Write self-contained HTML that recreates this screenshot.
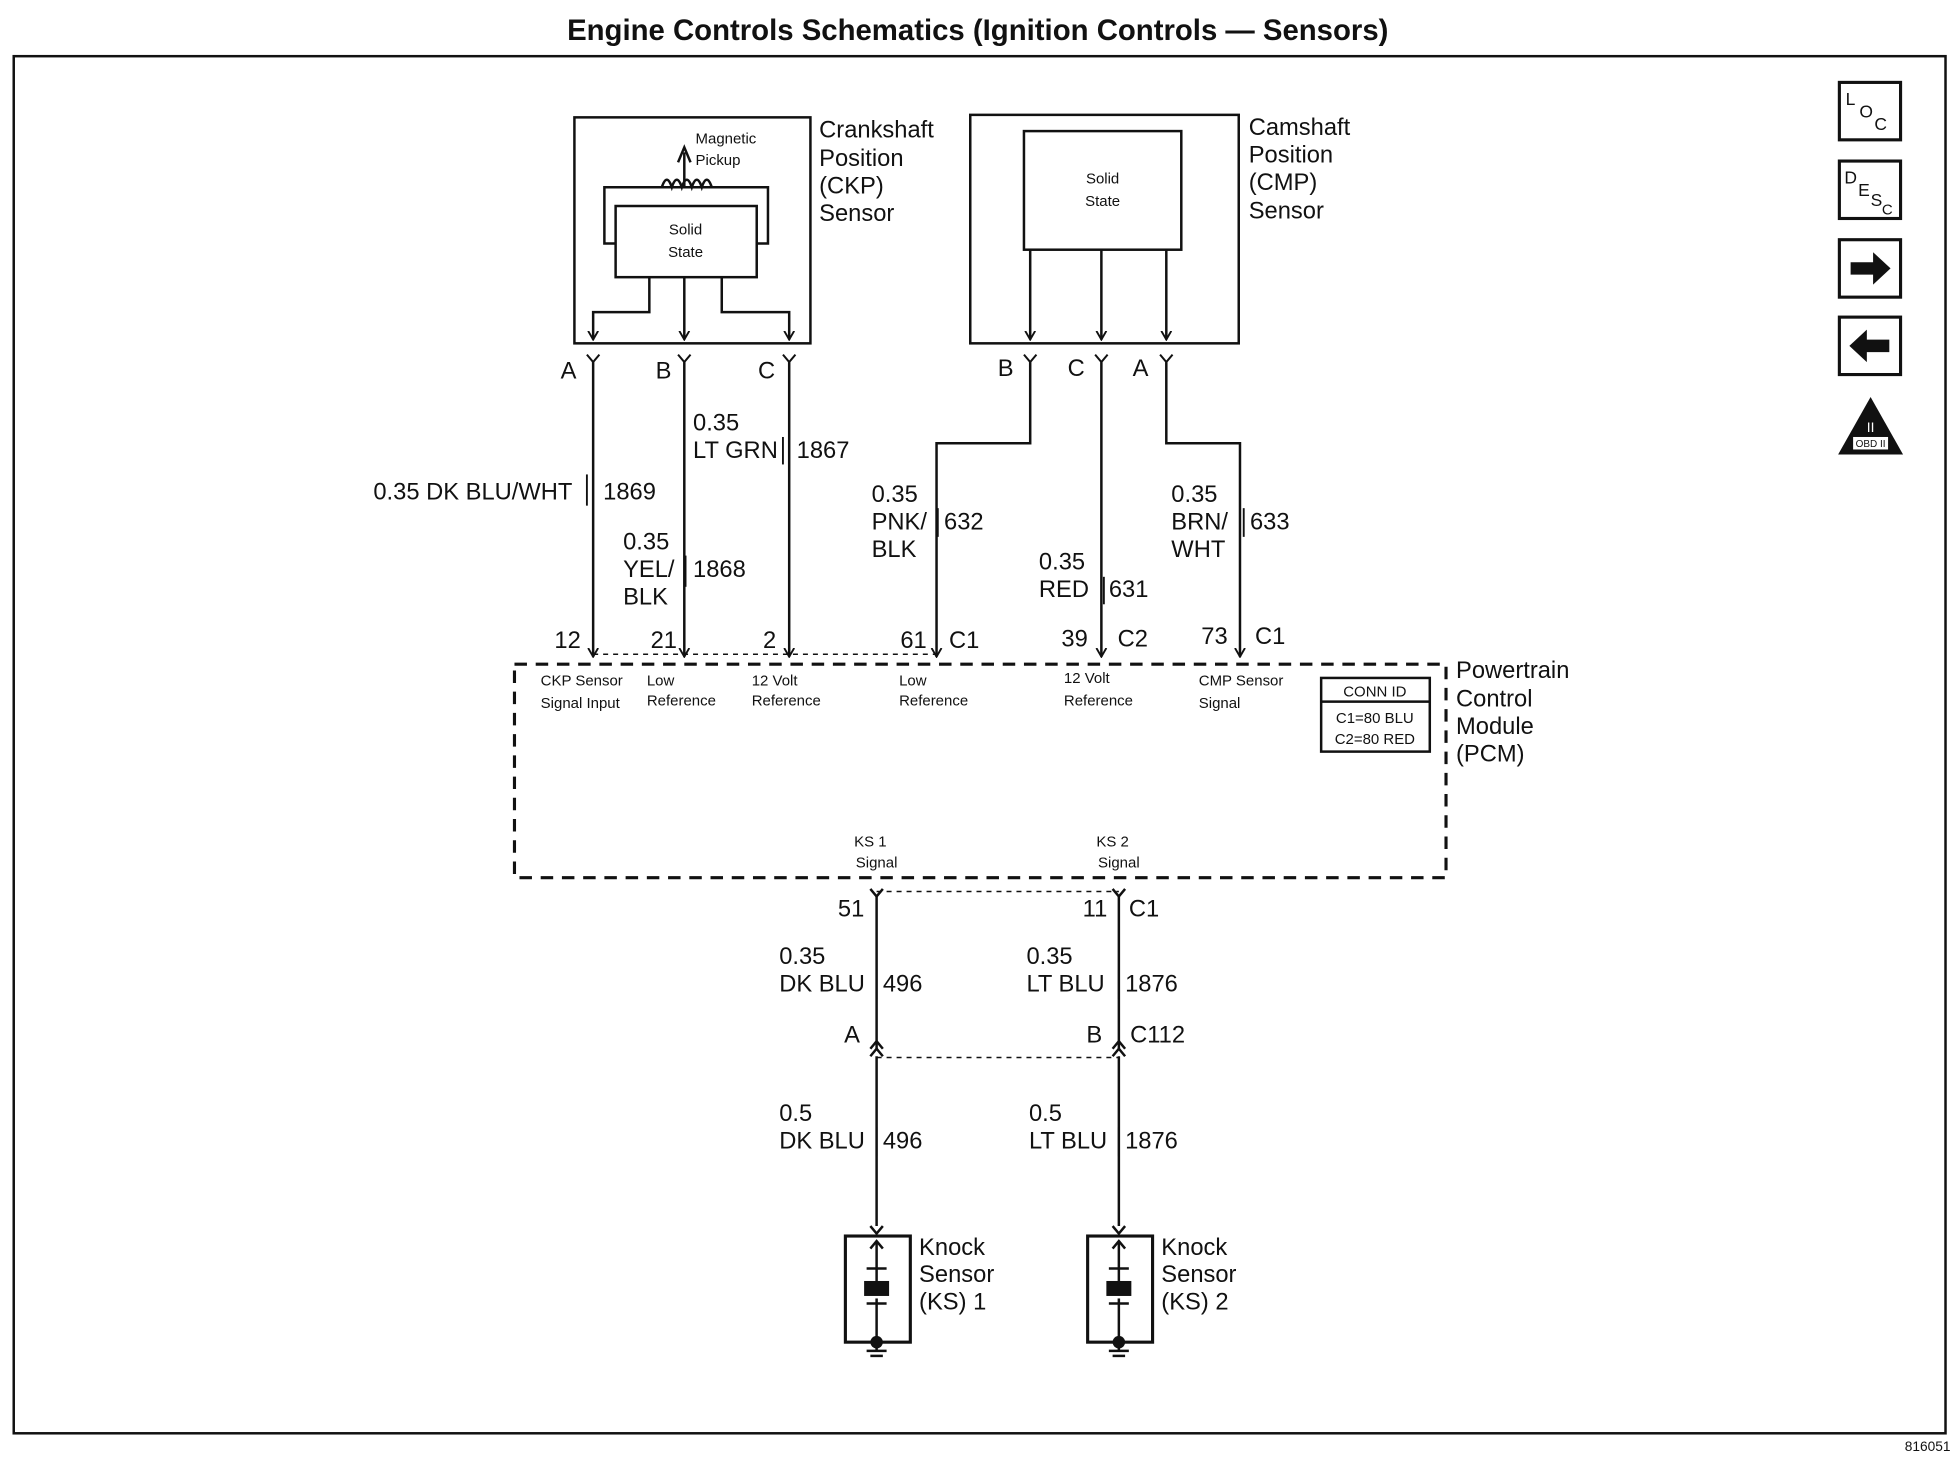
<!DOCTYPE html>
<html><head><meta charset="utf-8"><style>
html,body{margin:0;padding:0;background:#fff;}
svg{display:block}
text{font-family:"Liberation Sans",Arial,sans-serif;fill:#111}
</style></head><body>
<svg width="1958" height="1472" viewBox="0 0 1568 1179" preserveAspectRatio="none" xmlns="http://www.w3.org/2000/svg">
<defs>
<marker id="ah" markerWidth="8" markerHeight="10" refX="7" refY="5" orient="auto" markerUnits="userSpaceOnUse">
<path d="M0,1 L7,5 L0,9" fill="none" stroke="#111" stroke-width="1.5"/>
</marker>
</defs>
<text x="783" y="32" font-size="23.5" font-weight="bold" text-anchor="middle">Engine Controls Schematics (Ignition Controls — Sensors)</text>
<rect x="11" y="45" width="1547" height="1103" fill="none" stroke="#111" stroke-width="2"/>
<text x="1562" y="1162" font-size="11" text-anchor="end">816051</text>

<g fill="none" stroke="#111" stroke-width="2.5">
<rect x="1473" y="66" width="49" height="46"/>
<rect x="1473" y="129" width="49" height="46"/>
<rect x="1473" y="192" width="49" height="46"/>
<rect x="1473" y="254" width="49" height="46"/>
</g>
<text x="1478" y="84" font-size="14">L</text><text x="1489" y="94" font-size="14">O</text><text x="1501" y="104" font-size="14">C</text>
<text x="1477" y="147" font-size="14">D</text><text x="1488" y="157" font-size="14">E</text><text x="1498" y="165" font-size="14">S</text><text x="1507" y="172" font-size="12">C</text>
<path d="M1482,210 h18 v-8 l14,13 l-14,13 v-8 h-18z" fill="#111"/>
<path d="M1513,272 h-18 v-8 l-14,13 l14,13 v-8 h18z" fill="#111"/>
<path d="M1498,318 L1524,364 L1472,364 Z" fill="#111"/>
<rect x="1484" y="350" width="28" height="10" fill="#fff"/>
<text x="1498" y="358" font-size="8" text-anchor="middle">OBD II</text>
<text x="1498" y="346" font-size="11" text-anchor="middle" style="fill:#fff">II</text>

<g fill="none" stroke="#111" stroke-width="2">
<rect x="460" y="94" width="189" height="181"/>
<polyline points="493,195 484,195 484,150 615,150 615,195 606,195"/>
<rect x="493" y="165" width="113" height="57"/>
<path d="M530,150 q4,-12 8,0 q4,-12 8,0 q4,-12 8,0 q4,-12 8,0 q4,-12 8,0" />
<line x1="548" y1="150" x2="548" y2="122"/>
<path d="M543,130 L548,118 L553,130"/>
<polyline points="520,222 520,250 475,250 475,272" marker-end="url(#ah)"/>
<polyline points="548,222 548,272" marker-end="url(#ah)"/>
<polyline points="578,222 578,250 632,250 632,272" marker-end="url(#ah)"/>
<rect x="777" y="92" width="215" height="183"/>
<rect x="820" y="105" width="126" height="95"/>
<polyline points="825,200 825,272" marker-end="url(#ah)"/>
<polyline points="882,200 882,272" marker-end="url(#ah)"/>
<polyline points="934,200 934,272" marker-end="url(#ah)"/>
<g stroke-width="1.6">
<path d="M470,284 L475,290 L480,284"/>
<path d="M543,284 L548,290 L553,284"/>
<path d="M627,284 L632,290 L637,284"/>
<path d="M820,284 L825,290 L830,284"/>
<path d="M877,284 L882,290 L887,284"/>
<path d="M929,284 L934,290 L939,284"/>
</g>
<line x1="475" y1="290" x2="475" y2="526" marker-end="url(#ah)"/>
<line x1="548" y1="290" x2="548" y2="526" marker-end="url(#ah)"/>
<line x1="632" y1="290" x2="632" y2="526" marker-end="url(#ah)"/>
<polyline points="825,290 825,355 750,355 750,526" marker-end="url(#ah)"/>
<line x1="882" y1="290" x2="882" y2="526" marker-end="url(#ah)"/>
<polyline points="934,290 934,355 993,355 993,526" marker-end="url(#ah)"/>
<line x1="475" y1="524" x2="750" y2="524" stroke-dasharray="4,4" stroke-width="1.2"/>
<rect x="412" y="532" width="746" height="171" stroke-dasharray="10,7" stroke-width="2.5"/>
<rect x="1058" y="543" width="87" height="59"/>
<line x1="1058" y1="562" x2="1145" y2="562"/>
<path d="M697,712 L702,718 L707,712"/>
<path d="M891,712 L896,718 L901,712"/>
<line x1="702" y1="714" x2="896" y2="714" stroke-dasharray="4,4" stroke-width="1.2"/>
<line x1="702" y1="718" x2="702" y2="840"/>
<line x1="896" y1="718" x2="896" y2="840"/>
<path d="M697,840 L702,834 L707,840 M697,846 L702,840 L707,846"/>
<path d="M891,840 L896,834 L901,840 M891,846 L896,840 L901,846"/>
<line x1="702" y1="847" x2="896" y2="847" stroke-dasharray="4,4" stroke-width="1.2"/>
<line x1="702" y1="846" x2="702" y2="982"/>
<line x1="896" y1="846" x2="896" y2="982"/>
<path d="M697,982 L702,988 L707,982"/>
<path d="M891,982 L896,988 L901,982"/>
<rect x="677" y="990" width="52" height="85" stroke-width="2.5"/>
<rect x="871" y="990" width="52" height="85" stroke-width="2.5"/>
<g>
<line x1="702" y1="994" x2="702" y2="1026"/><path d="M697,1000 L702,994 L707,1000"/>
<line x1="694" y1="1016" x2="710" y2="1016"/>
<line x1="702" y1="1040" x2="702" y2="1075"/><line x1="694" y1="1044" x2="710" y2="1044"/>
<line x1="896" y1="994" x2="896" y2="1026"/><path d="M891,1000 L896,994 L901,1000"/>
<line x1="888" y1="1016" x2="904" y2="1016"/>
<line x1="896" y1="1040" x2="896" y2="1075"/><line x1="888" y1="1044" x2="904" y2="1044"/>
<line x1="702" y1="1075" x2="702" y2="1082"/><line x1="694" y1="1082" x2="710" y2="1082"/><line x1="697" y1="1086" x2="707" y2="1086"/>
<line x1="896" y1="1075" x2="896" y2="1082"/><line x1="888" y1="1082" x2="904" y2="1082"/><line x1="891" y1="1086" x2="901" y2="1086"/>
</g>
</g>
<rect x="692" y="1026" width="20" height="12" fill="#111"/>
<rect x="886" y="1026" width="20" height="12" fill="#111"/>
<circle cx="702" cy="1075" r="5" fill="#111"/><circle cx="896" cy="1075" r="5" fill="#111"/>

<g font-size="12">
<text x="557" y="115">Magnetic</text><text x="557" y="132">Pickup</text>
<text x="549" y="188" text-anchor="middle">Solid</text><text x="549" y="206" text-anchor="middle">State</text>
<text x="883" y="147" text-anchor="middle">Solid</text><text x="883" y="165" text-anchor="middle">State</text>
<text x="433" y="549">CKP Sensor</text><text x="433" y="567">Signal Input</text>
<text x="518" y="549">Low</text><text x="518" y="565">Reference</text>
<text x="602" y="549">12 Volt</text><text x="602" y="565">Reference</text>
<text x="720" y="549">Low</text><text x="720" y="565">Reference</text>
<text x="852" y="547">12 Volt</text><text x="852" y="565">Reference</text>
<text x="960" y="549">CMP Sensor</text><text x="960" y="567">Signal</text>
<text x="1101" y="558" text-anchor="middle">CONN ID</text>
<text x="1101" y="579" text-anchor="middle">C1=80 BLU</text>
<text x="1101" y="596" text-anchor="middle">C2=80 RED</text>
<text x="697" y="678" text-anchor="middle">KS 1</text><text x="702" y="695" text-anchor="middle">Signal</text>
<text x="891" y="678" text-anchor="middle">KS 2</text><text x="896" y="695" text-anchor="middle">Signal</text>
</g>
<g font-size="19">
<text x="656" y="110">Crankshaft</text><text x="656" y="133">Position</text><text x="656" y="155">(CKP)</text><text x="656" y="177">Sensor</text>
<text x="1000" y="108">Camshaft</text><text x="1000" y="130">Position</text><text x="1000" y="152">(CMP)</text><text x="1000" y="175">Sensor</text>
<text x="1166" y="543">Powertrain</text><text x="1166" y="566">Control</text><text x="1166" y="588">Module</text><text x="1166" y="610">(PCM)</text>
<text x="449" y="303">A</text><text x="525" y="303">B</text><text x="607" y="303">C</text>
<text x="799" y="301">B</text><text x="855" y="301">C</text><text x="907" y="301">A</text>
<text x="299" y="400">0.35 DK BLU/WHT</text><text x="483" y="400">1869</text>
<text x="555" y="345">0.35</text><text x="555" y="367">LT GRN</text><text x="638" y="367">1867</text>
<text x="499" y="440">0.35</text><text x="499" y="462">YEL/</text><text x="499" y="484">BLK</text><text x="555" y="462">1868</text>
<text x="698" y="402">0.35</text><text x="698" y="424">PNK/</text><text x="698" y="446">BLK</text><text x="756" y="424">632</text>
<text x="832" y="456">0.35</text><text x="832" y="478">RED</text><text x="888" y="478">631</text>
<text x="938" y="402">0.35</text><text x="938" y="424">BRN/</text><text x="938" y="446">WHT</text><text x="1001" y="424">633</text>
<text x="444" y="519">12</text><text x="521" y="519">21</text><text x="611" y="519">2</text>
<text x="721" y="519">61</text><text x="760" y="519">C1</text>
<text x="850" y="518">39</text><text x="895" y="518">C2</text>
<text x="962" y="516">73</text><text x="1005" y="516">C1</text>
<text x="671" y="734">51</text><text x="867" y="734">11</text><text x="904" y="734">C1</text>
<text x="624" y="772">0.35</text><text x="624" y="794">DK BLU</text><text x="707" y="794">496</text>
<text x="822" y="772">0.35</text><text x="822" y="794">LT BLU</text><text x="901" y="794">1876</text>
<text x="676" y="835">A</text><text x="870" y="835">B</text><text x="905" y="835">C112</text>
<text x="624" y="898">0.5</text><text x="624" y="920">DK BLU</text><text x="707" y="920">496</text>
<text x="824" y="898">0.5</text><text x="824" y="920">LT BLU</text><text x="901" y="920">1876</text>
<text x="736" y="1005">Knock</text><text x="736" y="1027">Sensor</text><text x="736" y="1049">(KS) 1</text>
<text x="930" y="1005">Knock</text><text x="930" y="1027">Sensor</text><text x="930" y="1049">(KS) 2</text>
</g>
<g stroke="#111" stroke-width="1.5">
<line x1="470" y1="380" x2="470" y2="405"/><line x1="549" y1="445" x2="549" y2="470"/>
<line x1="627" y1="350" x2="627" y2="372"/><line x1="751" y1="407" x2="751" y2="430"/>
<line x1="884" y1="462" x2="884" y2="484"/><line x1="996" y1="407" x2="996" y2="430"/>
<line x1="702" y1="777" x2="702" y2="800"/><line x1="896" y1="777" x2="896" y2="800"/>
<line x1="702" y1="903" x2="702" y2="926"/><line x1="896" y1="903" x2="896" y2="926"/>
</g>
</svg>
</body></html>
